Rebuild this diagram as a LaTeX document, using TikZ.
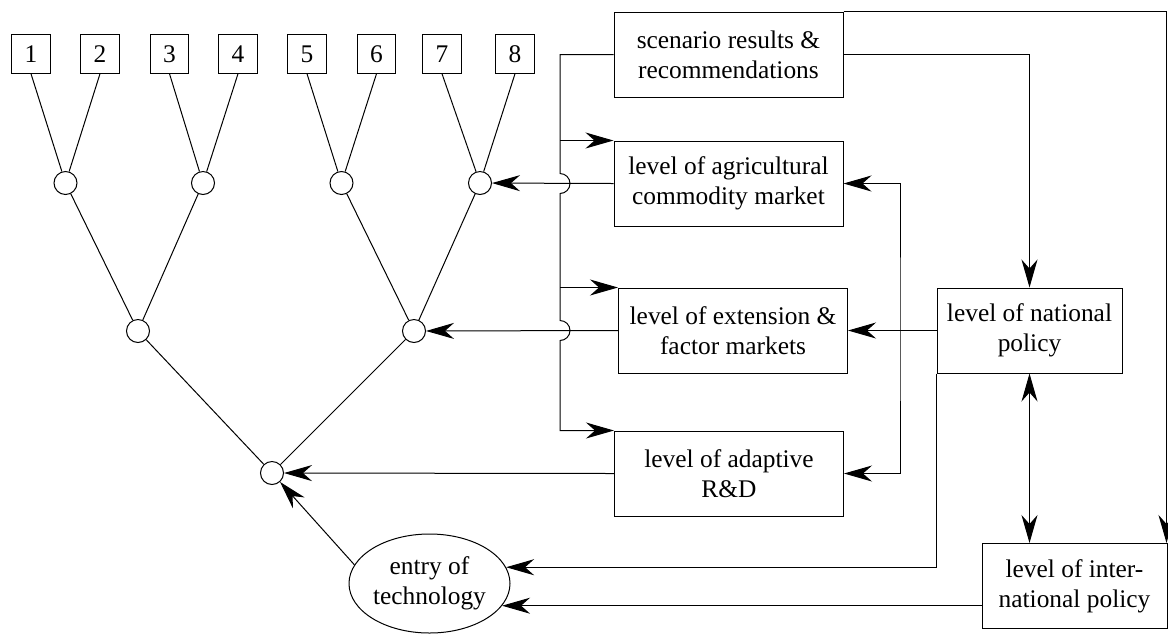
\documentclass[tikz,border=0pt]{standalone}
\usepackage{fontspec}
\setmainfont{Liberation Serif}
\usetikzlibrary{arrows.meta,shapes.geometric}
\newcommand{\widthlevel}{114.5pt}
\newcommand{\widthpolicy}{92.5pt}
\newcommand{\heightlevel}{42.5pt}
\tikzset{
    common/.style={draw, rectangle, inner sep=0pt, align=center},
    numbox/.style={common, minimum width=19.25pt, minimum height=19.25pt},
    level/.style={common, minimum width=\widthlevel, minimum height=\heightlevel},
    policy/.style={common, minimum width=\widthpolicy, minimum height=\heightlevel},
    knot/.style={draw, circle, fill=white, inner sep=0pt, minimum size=11.5pt},
    oval/.style={draw, ellipse, inner sep=0pt, minimum width=80.5pt, minimum height=49.5pt, align=center}
}

\begin{document}
\begin{tikzpicture}[x=0.5pt, y=-0.5pt, line width=0.5pt,
        >={Stealth[length=14pt, width=8pt, inset=4.5pt]},
        font=\fontsize{12.7}{15}\selectfont]
    \useasboundingbox (0,0) rectangle (1168,634);

    % tree of adoption
    \foreach \i/\x in {1/31,2/100,3/169.5,4/238,5/307,6/376.5,7/442,8/515}
        \node[numbox] (n\i) at (\x,54) {\i};
    \node[knot] (k1) at (65.5,183) {};
    \node[knot] (k2) at (203,183) {};
    \node[knot] (k3) at (341.5,183) {};
    \node[knot] (k4) at (480,183) {};
    \node[knot] (m1) at (138,331) {};
    \node[knot] (m2) at (414,331) {};
    \node[knot] (root) at (272,473) {};
    \foreach \i/\k in {1/k1,2/k1,3/k2,4/k2,5/k3,6/k3,7/k4,8/k4}
        \draw (n\i.south) -- (\k);
    \draw (k1) -- (m1) (k2) -- (m1) (k3) -- (m2) (k4) -- (m2)
          (m1) -- (root) (m2) -- (root);

    % levels
    \node[level] (scen) at (728.5,54.5) {scenario results \&\\recommendations};
    \node[level] (agri) at (728.5,183.5) {level of agricultural\\commodity market};
    \node[level] (ext) at (733,330.5) {level of extension \&\\factor markets};
    \node[level] (adapt) at (729,473.5) {level of adaptive\\R\&D};
    \node[policy] (nat) at (1029.5,330.5) {level of national\\policy};
    \node[policy] (intl) at (1074.5,586) {level of inter-\\national policy};
    \node[oval] (entry) at (429.5,583.5) {entry of\\technology};
    \coordinate (trunk) at (560,0);
    \coordinate (bend) at (900,330);

    \draw[->] (scen.west) -| (560,173.5) arc[start angle=90, end angle=-90, radius=5pt]
        -- (560,320.5) arc[start angle=90, end angle=-90, radius=5pt] |- (adapt.north west);
    \draw[->] (agri.north west -| trunk) -- (agri.north west);
    \draw[->] (ext.north west -| trunk) -- (ext.north west);

    \draw[->] (agri.west) -- (k4);
    \draw[->] (ext.west) -- (m2);
    \draw[->] (adapt.west) -- (root);
    \draw[->] (nat.west) -- (ext.east);
    \draw[<->] (agri.east) -| (bend) |- (adapt.east);
    \draw[->] (scen.east) -| (nat.north);
    \draw[->] (scen.north east) -| ([xshift=-0.5pt]intl.north east);
    \draw[<->] (nat.south) -- (nat.south |- intl.north);
    \draw[->] (nat.south west) |- (entry.12);
    \draw[->] (intl.west |- entry.-17) -- (entry.-17);
    \draw[->] (entry.166) -- (root);
\end{tikzpicture}
\end{document}
